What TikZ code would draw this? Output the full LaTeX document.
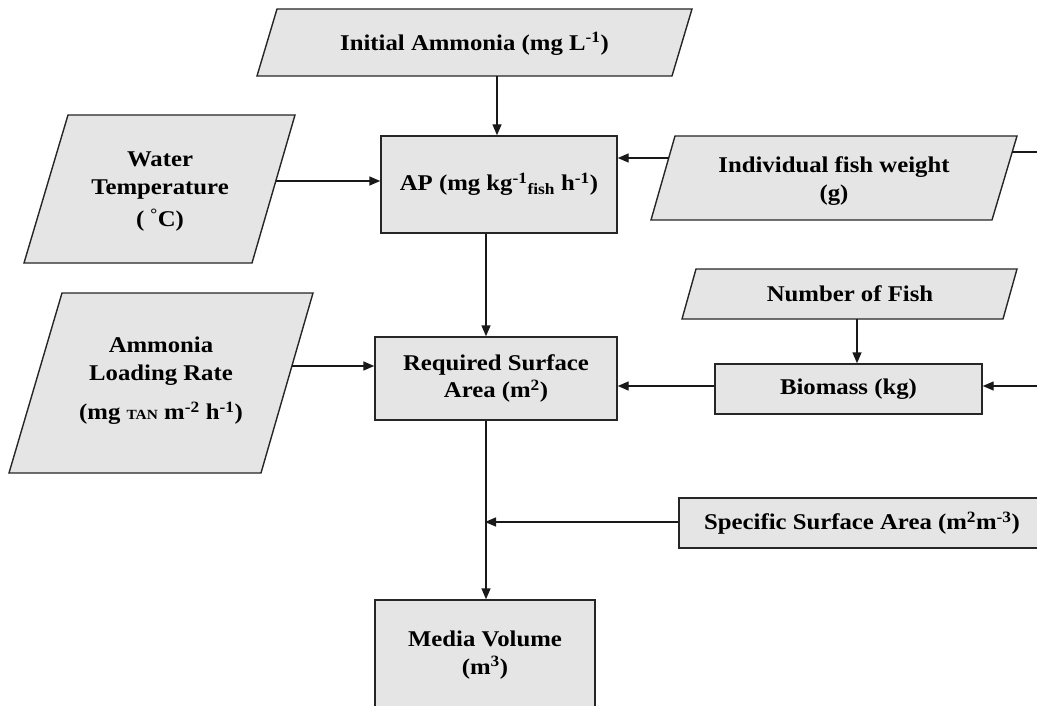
\documentclass[tikz,border=0pt]{standalone}
\usepackage{fontspec}
\setmainfont{Liberation Serif}[FakeStretch=1.1]
\usepackage{tikz}
\usetikzlibrary{arrows.meta}

\begin{document}
\begin{tikzpicture}[x=1pt,y=-1pt,
    caja/.style={draw=black!85,line width=1.4pt,fill=gray!20},
    texto/.style={font=\bfseries\fontsize{22.5}{27.5}\selectfont,align=center,inner sep=0pt},
    flecha/.style={draw=black!90,line width=1.4pt,-{Triangle[length=11pt,width=9pt]}},
    linea/.style={draw=black!90,line width=1.4pt}]
  \useasboundingbox (0,0) rectangle (1037,706);
  \clip (0,0) rectangle (1037,706);

  % Entradas (paralelogramos)
  \draw[caja] (277,9) -- (692,9) -- (672,76) -- (257,76) -- cycle;
  \node[texto] (amoniaco) at (474.5,44) {Initial Ammonia (mg L\textsuperscript{-1})};
  \draw[caja] (68,115) -- (295,115) -- (252,263) -- (24,263) -- cycle;
  \node[texto] (temp) at (160,192) {Water\\Temperature\\[5pt]( \textsuperscript{°}C)};
  \draw[caja] (675,136) -- (1017,136) -- (992,220) -- (651,220) -- cycle;
  \node[texto] (peso) at (834,181) {Individual fish weight\\(g)};
  \draw[caja] (62,293) -- (313,293) -- (261,473) -- (9,473) -- cycle;
  \node[texto] (carga) at (161,381) {Ammonia\\Loading Rate\\[12pt](mg {\fontsize{14}{14}\selectfont TAN} m\textsuperscript{-2} h\textsuperscript{-1})};
  \draw[caja] (696,269) -- (1017,269) -- (1003,319) -- (682,319) -- cycle;
  \node[texto] (peces) at (850,294) {Number of Fish};

  % Puntos de salida en los bordes inclinados
  \coordinate (amoniaco-s) at (497,76);
  \coordinate (temp-e) at (276,181);
  \coordinate (peso-w) at (669,158);
  \coordinate (peso-e) at (1012,152);
  \coordinate (peso-fuera) at (1040,152);
  \coordinate (carga-e) at (292,366);
  \coordinate (peces-s) at (857,319);
  \coordinate (bio-fuera) at (1040,386);

  % Bloques de calculo
  \node[caja,texto,minimum width=236pt,minimum height=97pt] (ap) at (499,184.5)
    {AP (mg kg\textsuperscript{-1}\textsubscript{fish} h\textsuperscript{-1})};
  \node[caja,texto,minimum width=242pt,minimum height=83pt] (sup) at (496,378.5)
    {Required Surface\\Area (m\textsuperscript{2})};
  \node[caja,texto,minimum width=267pt,minimum height=50pt] (bio) at (848.5,389) {Biomass (kg)};
  \node[caja,texto,minimum width=366pt,minimum height=50pt] (ssa) at (862,523)
    {Specific Surface Area (m\textsuperscript{2}m\textsuperscript{-3})};
  \node[caja,texto,minimum width=220pt,minimum height=110pt] (media) at (485,655)
    {Media Volume\\(m\textsuperscript{3})};

  % Conectores
  \draw[flecha] (amoniaco-s) -- (amoniaco-s |- ap.north);
  \draw[flecha] (temp-e) -- (temp-e -| ap.west);
  \draw[flecha] (peso-w) -- (peso-w -| ap.east);
  \draw[linea] (peso-e) -- (peso-fuera);
  \draw[flecha] ([xshift=-13pt]ap.south) -- ([xshift=-13pt]ap.south |- sup.north);
  \draw[flecha] (carga-e) -- (carga-e -| sup.west);
  \draw[flecha] (peces-s) -- (peces-s |- bio.north);
  \draw[flecha] (bio-fuera) -- (bio-fuera -| bio.east);
  \draw[flecha] ([yshift=3pt]bio.west) -- ([yshift=3pt]bio.west -| sup.east);
  \draw[flecha] ([xshift=-10pt]sup.south) -- ([xshift=-10pt]sup.south |- media.north);
  \draw[flecha] ([yshift=1pt]ssa.west) -- ([yshift=1pt]ssa.west -| media.north);
\end{tikzpicture}
\end{document}
